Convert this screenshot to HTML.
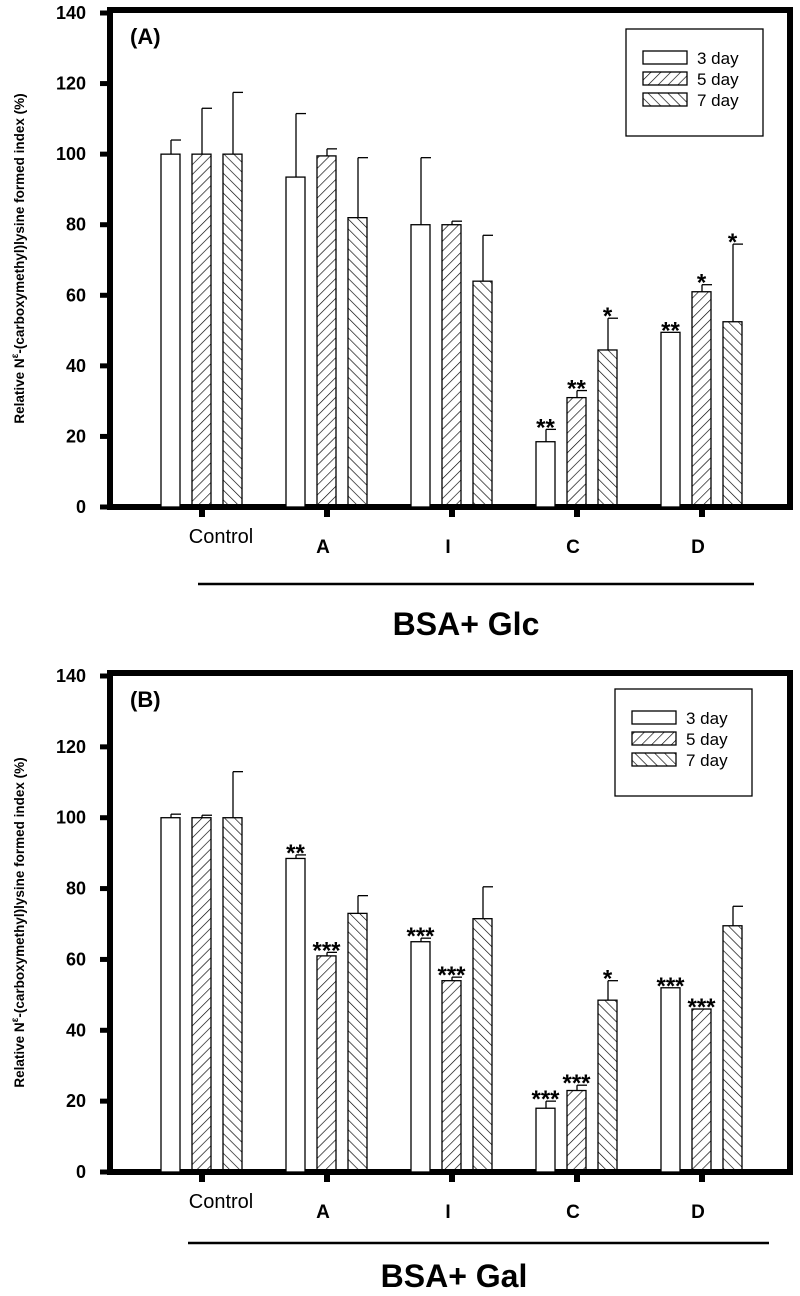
<!DOCTYPE html>
<html><head><meta charset="utf-8"><style>
html,body{margin:0;padding:0;background:#fff;}
svg{display:block;font-family:"Liberation Sans",Arial,sans-serif;}
</style></head><body>
<svg id="chart" width="800" height="1296" viewBox="0 0 800 1296">
<defs>
<pattern id="fwd" patternUnits="userSpaceOnUse" width="7" height="7" patternTransform="rotate(45)"><line x1="0" y1="0" x2="0" y2="7" stroke="#000" stroke-width="1.3"/></pattern>
<pattern id="bwd" patternUnits="userSpaceOnUse" width="7" height="7" patternTransform="rotate(-45)"><line x1="0" y1="0" x2="0" y2="7" stroke="#000" stroke-width="1.3"/></pattern>
</defs>
</svg>
<script>
const categories = ["Control","A","I","C","D"];
const seriesNames = ["3 day","5 day","7 day"];
const yTicks = [0,20,40,60,80,100,120,140];
const glcDay3 = [100,93.5,80,18.5,49.5];
const glcDay5 = [100,99.5,80,31,61];
const glcDay7 = [100,82,64,44.5,52.5];
const glcErr3 = [4,18,19,3.5,0];
const glcErr5 = [13,2,1,2,2];
const glcErr7 = [17.5,17,13,9,22];
const glcStars3 = ["","","","**","**"];
const glcStars5 = ["","","","**","*"];
const glcStars7 = ["","","","*","*"];
const galDay3 = [100,88.5,65,18,52];
const galDay5 = [100,61,54,23,46];
const galDay7 = [100,73,71.5,48.5,69.5];
const galErr3 = [1,1,1,2,0];
const galErr5 = [0.7,1,1,1.5,0];
const galErr7 = [13,5,9,5.5,5.5];
const galStars3 = ["","**","***","***","***"];
const galStars5 = ["","***","***","***","***"];
const galStars7 = ["","","","*",""];

const svg = document.getElementById('chart');
const NS = 'http://www.w3.org/2000/svg';
function mk(tag, attrs, parent){const e=document.createElementNS(NS,tag);for(const k in attrs)e.setAttribute(k,attrs[k]);(parent||svg).appendChild(e);return e;}
const fills = ['#fff','url(#fwd)','url(#bwd)'];

function panel(cfg){
  const g = mk('g',{});
  
  
  const y = v => cfg.y0 - (v/140)*(cfg.y0-cfg.y140);
  const x = i => 202 + i*125;
  const fr = mk('rect',{x:110,y:cfg.top,width:680,height:cfg.y0-cfg.top,fill:'none',stroke:'#000','stroke-width':6},g);
  
  
  yTicks.forEach(t=>{
    const tk = mk('line',{x1:100,x2:110,y1:y(t),y2:y(t),stroke:'#000','stroke-width':5},g);
    
    
    const tl = mk('text',{x:86,y:y(t)+6,'text-anchor':'end','font-size':18,'font-weight':'bold'},g);
    tl.textContent = t;
    
    
  });
  const yt = mk('text',{transform:`translate(24,${(cfg.top+cfg.y0)/2}) rotate(-90)`,'text-anchor':'middle','font-size':13.5,'font-weight':'bold'},g);
  yt.innerHTML = 'Relative N<tspan dy="-6" font-size="10">ε</tspan><tspan dy="6">-(carboxymethyl)lysine formed index (%)</tspan>';
  
  
  const series=[cfg.d3,cfg.d5,cfg.d7], errs=[cfg.e3,cfg.e5,cfg.e7], stars=[cfg.s3,cfg.s5,cfg.s7];
  categories.forEach((c,i)=>{
    const tk = mk('line',{x1:x(i),x2:x(i),y1:cfg.y0,y2:cfg.y0+10,stroke:'#000','stroke-width':6},g);
    
    
    const isC = i===0;
    const lb = mk('text',{x:isC?x(i)+19:x(i)-4,y:cfg.y0+(isC?36:46),'text-anchor':'middle','font-size':isC?20:19,'font-weight':isC?'normal':'bold'},g);
    lb.textContent = c;
    
    
    for(let s=0;s<3;s++){
      const v=series[s][i], bx=x(i)+(s-1)*31-10;
      const top=y(v);
      const eTop=y(v+errs[s][i]);
      if(errs[s][i]>0){
        const el=mk('line',{x1:bx+10,x2:bx+10,y1:top,y2:eTop,stroke:'#000','stroke-width':1.3},g);
        
        
        const cap=mk('line',{x1:bx+10,x2:bx+20,y1:eTop,y2:eTop,stroke:'#000','stroke-width':1.3},g);
        
        
      }
      const r=mk('rect',{x:bx,y:top,width:19,height:cfg.y0-top,fill:fills[s],stroke:'#000','stroke-width':1.3},g);
      
      
      if(stars[s][i]){
        const st=mk('text',{x:bx+9.5,y:Math.min(eTop,top)+6,'text-anchor':'middle','font-size':24,'font-weight':'bold'},g);
        st.textContent=stars[s][i];
        
        
      }
    }
  });
  const lg = mk('g',{},g);
  
  
  mk('rect',{x:cfg.lx,y:cfg.ly,width:137,height:107,fill:'#fff',stroke:'#000','stroke-width':1.3},lg);
  seriesNames.forEach((n,s)=>{
    const ey=cfg.ly+22+s*21;
    const sw=mk('rect',{x:cfg.lx+17,y:ey,width:44,height:13,fill:fills[s],stroke:'#000','stroke-width':1.3},lg);
    
    
    const tx=mk('text',{x:cfg.lx+71,y:ey+13,'font-size':17},lg);
    tx.textContent=n;
    
    
  });
  const pl=mk('text',{x:130,y:cfg.top+34,'font-size':22,'font-weight':'bold'},g);
  pl.textContent=cfg.label;
  
  
  const ul=mk('line',{x1:cfg.ux1,x2:cfg.ux2,y1:cfg.uy,y2:cfg.uy,stroke:'#000','stroke-width':2.5},g);
  
  
  const gt=mk('text',{x:cfg.tx,y:cfg.ty,'text-anchor':'middle','font-size':32,'font-weight':'bold'},g);
  gt.textContent=cfg.title;
  
  
}
panel({name:'panel-a-glucose',top:10,y0:507,y140:13,d3:glcDay3,d5:glcDay5,d7:glcDay7,e3:glcErr3,e5:glcErr5,e7:glcErr7,s3:glcStars3,s5:glcStars5,s7:glcStars7,lx:626,ly:29,label:'(A)',ux1:198,ux2:754,uy:584,tx:466,ty:635,title:'BSA+ Glc'});
panel({name:'panel-b-galactose',top:673,y0:1172,y140:676,d3:galDay3,d5:galDay5,d7:galDay7,e3:galErr3,e5:galErr5,e7:galErr7,s3:galStars3,s5:galStars5,s7:galStars7,lx:615,ly:689,label:'(B)',ux1:188,ux2:769,uy:1243,tx:454,ty:1287,title:'BSA+ Gal'});
</script>
</body></html>
